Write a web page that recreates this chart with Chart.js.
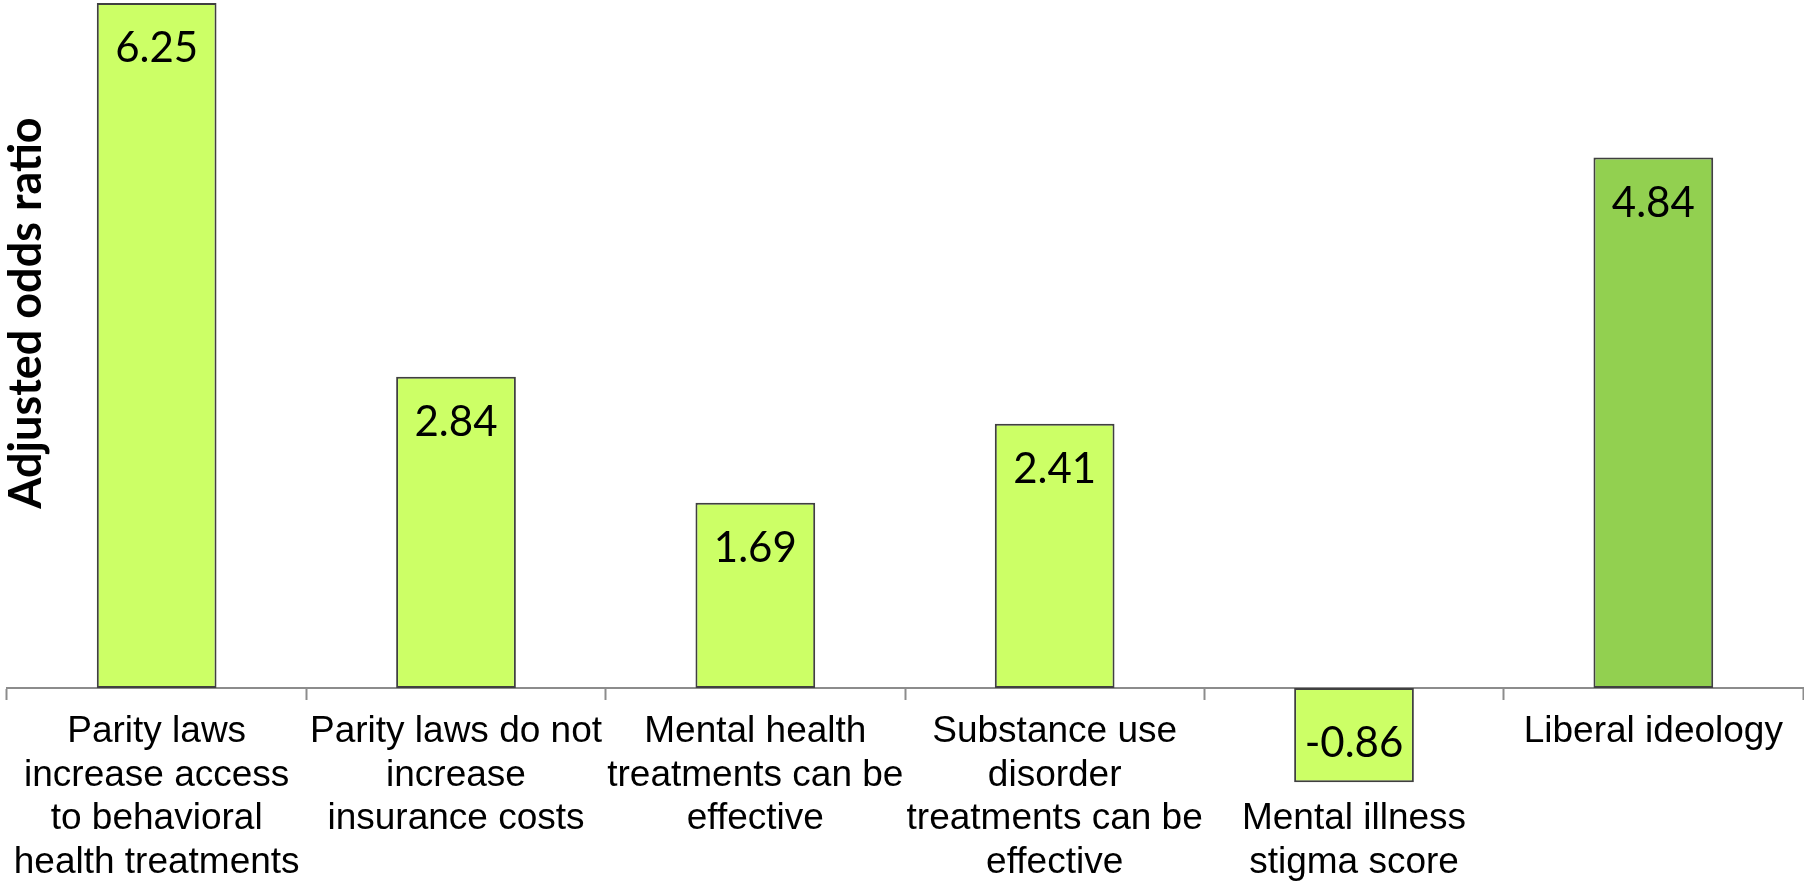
<!DOCTYPE html>
<html>
<head>
<meta charset="utf-8">
<script src="https://cdn.jsdelivr.net/npm/chart.js@4.4.1/dist/chart.umd.min.js"></script>
<style>
  html, body { margin: 0; padding: 0; background: #fff; }
  #chart { display: block; }
</style>
</head>
<body>
<canvas id="chart" width="1804" height="882"></canvas>
<script>
// categories (multi-line labels, as in the original)
const categories = [
    ['Parity laws', 'increase access', 'to behavioral', 'health treatments'],
    ['Parity laws do not', 'increase', 'insurance costs'],
    ['Mental health', 'treatments can be', 'effective'],
    ['Substance use', 'disorder', 'treatments can be', 'effective'],
    ['', '', 'Mental illness', 'stigma score'],
    ['Liberal ideology']
];
const oddsRatios = [6.25, 2.84, 1.69, 2.41, -0.86, 4.84];
const barColors = ['#ccff66', '#ccff66', '#ccff66', '#ccff66', '#ccff66', '#92d050'];
const yTitle = 'Adjusted odds ratio';

// value labels inside the bar ends
const valueLabels = {
    id: 'valueLabels',
    afterDatasetsDraw(chart) {
        const ctx = chart.ctx;
        const meta = chart.getDatasetMeta(0);
        ctx.save();
        ctx.font = '42px Lato';
        ctx.fillStyle = '#000';
        ctx.textAlign = 'center';
        ctx.textBaseline = 'alphabetic';
        meta.data.forEach((bar, i) => {
            const v = oddsRatios[i];
            const y = v >= 0 ? bar.y + 59 : bar.y - 25;
            ctx.fillText(v.toFixed(2), bar.x, y);
        });
        ctx.restore();
    }
};

// rotated y-axis title drawn over the left edge
const yAxisTitle = {
    id: 'yAxisTitle',
    afterDraw(chart) {
        const ctx = chart.ctx;
        ctx.save();
        ctx.translate(26, 313);
        ctx.rotate(-Math.PI / 2);
        ctx.font = 'bold 45px Lato';
        ctx.fillStyle = '#000';
        ctx.textAlign = 'center';
        ctx.textBaseline = 'middle';
        ctx.fillText(yTitle, 0, 0);
        ctx.restore();
    }
};

new Chart(document.getElementById('chart'), {
    type: 'bar',
    data: {
        labels: categories,
        datasets: [{
            data: oddsRatios,
            backgroundColor: barColors,
            borderColor: '#404040',
            borderWidth: 2,
            borderSkipped: false,
            categoryPercentage: 1.0,
            barPercentage: 0.4
        }]
    },
    options: {
        responsive: false,
        animation: false,
        layout: { padding: { top: 0.8, bottom: 29.6, left: 7, right: 1 } },
        plugins: {
            legend: { display: false },
            tooltip: { enabled: false }
        },
        scales: {
            y: {
                display: false,
                min: -1.5,
                max: 6.27
            },
            x: {
                position: { y: 0 },
                grid: {
                    offset: true,
                    drawOnChartArea: false,
                    drawTicks: true,
                    tickLength: 11,
                    tickWidth: 2,
                    tickColor: '#8c8c8c'
                },
                border: { display: true, color: '#8c8c8c', width: 2 },
                ticks: {
                    autoSkip: false,
                    maxRotation: 0,
                    minRotation: 0,
                    padding: 11,
                    color: '#000',
                    font: { family: 'Liberation Sans', size: 37, lineHeight: 1.18 }
                }
            }
        }
    },
    plugins: [valueLabels, yAxisTitle]
});
</script>
</body>
</html>
